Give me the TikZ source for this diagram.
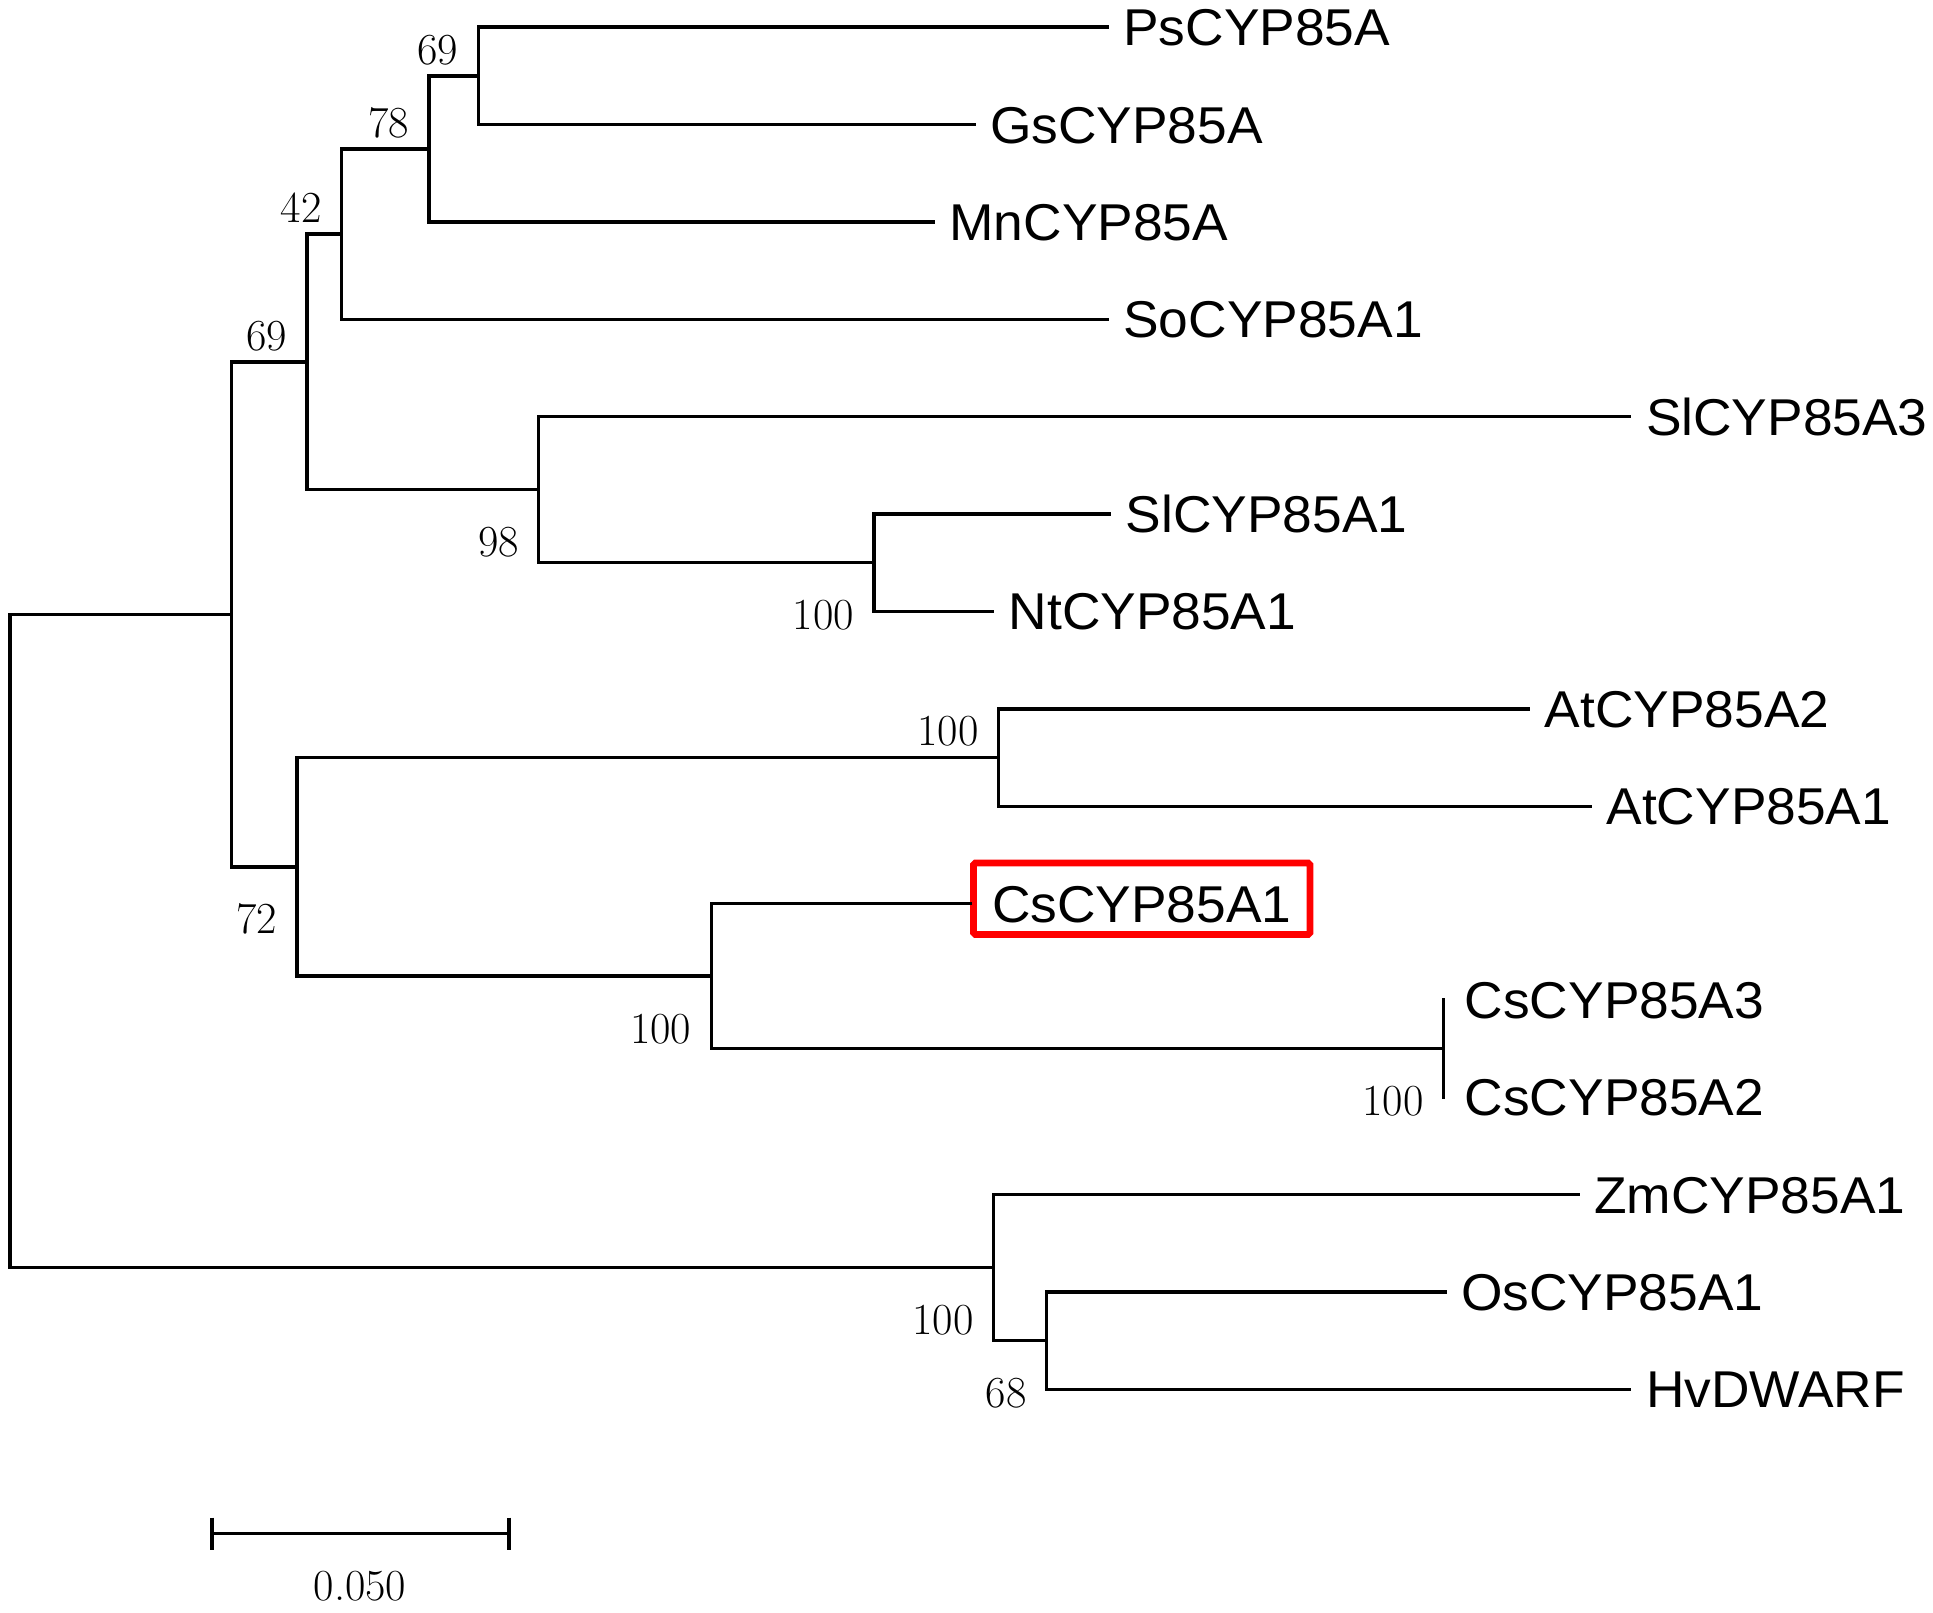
\documentclass[tikz,border=0pt]{standalone}
\usepackage{fontspec}
\newfontfamily\taxfont[FakeStretch=1.03]{Liberation Sans}
\usetikzlibrary{calc}
\begin{document}
\begin{tikzpicture}[x=1pt,y=-1pt,
  br/.style={line width=2.8pt, line cap=rect, line join=miter},
  tax/.style={font=\taxfont\fontsize{42}{42}\selectfont, anchor=west, inner xsep=13pt, inner ysep=0pt, text height=30pt, text depth=0pt},
  sup/.style={font=\fontsize{36}{36}\selectfont, anchor=east, inner sep=0pt, text height=23pt, text depth=0pt},
  hilite/.style={draw=red, line width=5.5pt, rounded corners=1.5pt, inner xsep=15pt, inner ysep=8pt, text height=40pt, text depth=2pt, anchor=base west},
]
\useasboundingbox (0,0) rectangle (1568,1308);
% internal nodes
\coordinate (n1) at (388,61.5);
\coordinate (n2) at (348,120.75);
\coordinate (n3) at (277,189.9);
\coordinate (n5) at (709,456.5);
\coordinate (n4) at (437,397.25);
\coordinate (n6) at (249,293.6);
\coordinate (n7) at (810,614.5);
\coordinate (n8) at (1171,850.5);
\coordinate (n9) at (577,791.75);
\coordinate (n10) at (241,703.1);
\coordinate (n11) at (188,498.4);
\coordinate (n12) at (849,1087.5);
\coordinate (n13) at (806,1028.25);
\coordinate (root) at (8,763.3);
% tips
\node[tax] (ps)  at (898,22)   {PsCYP85A};
\node[tax] (gs)  at (790,101)  {GsCYP85A};
\node[tax] (mn)  at (757,180)  {MnCYP85A};
\node[tax] (so)  at (898,259)  {SoCYP85A1};
\node[tax] (sl3) at (1322,338) {SlCYP85A3};
\node[tax] (sl1) at (900,417)  {SlCYP85A1};
\node[tax] (nt)  at (805,496)  {NtCYP85A1};
\node[tax] (at2) at (1240,575) {AtCYP85A2};
\node[tax] (at1) at (1290,654) {AtCYP85A1};
\node[tax, hilite] (cs1) at (787,748) {CsCYP85A1};
\node[tax, inner xsep=17pt] (cs3) at (1171,811) {CsCYP85A3};
\node[tax, inner xsep=17pt] (cs2) at (1171,890) {CsCYP85A2};
\node[tax] (zm)  at (1280,969)  {ZmCYP85A1};
\node[tax] (os)  at (1172,1048) {OsCYP85A1};
\node[tax] (hv)  at (1322,1127) {HvDWARF};
% branches
\draw[br] (n1) |- (ps.west);
\draw[br] (n1) |- (gs.west);
\draw[br] (n2) |- (n1);
\draw[br] (n2) |- (mn.west);
\draw[br] (n3) |- (n2);
\draw[br] (n3) |- (so.west);
\draw[br] (n5) |- (sl1.west);
\draw[br] (n5) |- (nt.west);
\draw[br] (n4) |- (sl3.west);
\draw[br] (n4) |- (n5);
\draw[br] (n6) |- (n3);
\draw[br] (n6) |- (n4);
\draw[br] (n7) |- (at2.west);
\draw[br] (n7) |- (at1.west);
\draw[br] (n8) |- (cs3.west);
\draw[br] (n8) |- (cs2.west);
\draw[br] (n9) |- ($(cs1.base west)+(0,-15)$);
\draw[br] (n9) |- (n8);
\draw[br] (n10) |- (n7);
\draw[br] (n10) |- (n9);
\draw[br] (n11) |- (n6);
\draw[br] (n11) |- (n10);
\draw[br] (n12) |- (os.west);
\draw[br] (n12) |- (hv.west);
\draw[br] (n13) |- (zm.west);
\draw[br] (n13) |- (n12);
\draw[br] (root) |- (n11);
\draw[br] (root) |- (n13);
% support values
\node[sup] (s1)  at ($(n1)+(-16,-21)$)  {69};
\node[sup] (s2)  at ($(n2)+(-16,-21)$)  {78};
\node[sup] (s3)  at ($(n3)+(-16,-21)$)  {42};
\node[sup] (s6)  at ($(n6)+(-16,-21)$)  {69};
\node[sup] (s7)  at ($(n7)+(-16,-21)$)  {100};
\node[sup] (s4)  at ($(n4)+(-16,43)$)   {98};
\node[sup] (s5)  at ($(n5)+(-16,43)$)   {100};
\node[sup] (s9)  at ($(n9)+(-16,43)$)   {100};
\node[sup] (s10) at ($(n10)+(-16,43)$)  {72};
\node[sup] (s8)  at ($(n8)+(-16,43)$)   {100};
\node[sup] (s13) at ($(n13)+(-16,43)$)  {100};
\node[sup] (s12) at ($(n12)+(-16,43)$)  {68};
% scale bar
\coordinate (sbL) at (172,1244);
\coordinate (sbR) at (413,1244);
\draw[br, line cap=butt] (sbL) -- (sbR);
\draw[br, line cap=butt] ($(sbL)+(0,-13)$) -- ($(sbL)+(0,13)$);
\draw[br, line cap=butt] ($(sbR)+(0,-13)$) -- ($(sbR)+(0,13)$);
\node[sup, anchor=center] (sbt) at (292,1287) {0.050};
\end{tikzpicture}
\end{document}
